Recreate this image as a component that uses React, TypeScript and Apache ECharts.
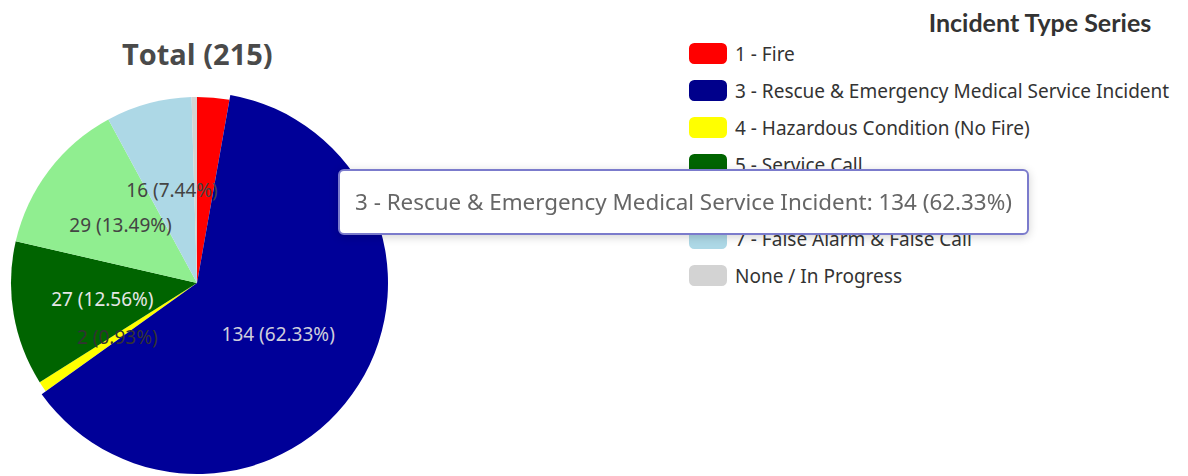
import React, { useEffect, useRef } from "react";
import * as echarts from "echarts";

const categories = [
  "1 - Fire",
  "3 - Rescue & Emergency Medical Service Incident",
  "4 - Hazardous Condition (No Fire)",
  "5 - Service Call",
  "6 - Good Intent Call",
  "7 - False Alarm & False Call",
  "None / In Progress",
];
const values = [6, 134, 2, 27, 29, 16, 1];
const colors = ["#ff0000", "#00008b", "#ffff00", "#006400", "#90ee90", "#add8e6", "#d3d3d3"];
const labelColors = ["#444", "#cfcfdc", "#333", "#e6e6e6", "#444", "#444", "#444"];
const hiddenLabels = ["1 - Fire", "None / In Progress"];
const totalTitle = "Total (215)";
const legendTitle = "Incident Type Series";

export default function App() {
  const ref = useRef<HTMLDivElement>(null);
  useEffect(() => {
    document.body.style.margin = "0";
    if (!ref.current) return;
    const chart = echarts.init(ref.current, undefined, { renderer: "svg" });
    const sectorData = categories.map((name, i) => ({
      name,
      value: values[i],
      itemStyle: { color: colors[i] },
    }));
    const labelData = categories.map((name, i) => ({
      name,
      value: values[i],
      label: { show: !hiddenLabels.includes(name), color: labelColors[i] },
    }));
    chart.setOption({
      animation: false,
      title: [
        {
          text: totalTitle,
          left: 122,
          top: 39,
          padding: 0,
          textStyle: { fontSize: 29, fontWeight: "bold", color: "#4a4a4a", fontFamily: "Open Sans" },
        },
        {
          text: legendTitle,
          right: 36,
          top: 9,
          padding: 0,
          textStyle: { fontSize: 25, fontWeight: "bold", color: "#333", fontFamily: "Lato" },
        },
      ],
      tooltip: {
        trigger: "item",
        alwaysShowContent: true,
        formatter: "{b}: {c} ({d}%)",
        position: [338, 169],
        backgroundColor: "#fff",
        borderColor: "#7b7bcc",
        borderWidth: 2,
        borderRadius: 6,
        padding: [15, 15],
        textStyle: { fontSize: 22.4, color: "#666", fontFamily: "Noto Sans", lineHeight: 32 },
        extraCssText: "box-shadow: 0 2px 10px rgba(0,0,0,0.18);",
      },
      legend: {
        orient: "vertical",
        left: 689,
        top: 43,
        padding: 0,
        itemWidth: 38,
        itemHeight: 21,
        itemGap: 16,
        icon: "roundRect",
        textStyle: {
          fontSize: 19,
          lineHeight: 21,
          color: "#333",
          fontFamily: "Noto Sans",
          padding: [0, 0, 0, 3],
        },
        data: categories,
      },
      series: [
        {
          type: "pie",
          z: 2,
          center: [197, 283],
          radius: 186,
          startAngle: 90,
          clockwise: true,
          data: sectorData,
          label: { show: false },
          labelLine: { show: false },
          emphasis: { scale: true, scaleSize: 5 },
        },
        {
          type: "pie",
          z: 5,
          silent: true,
          tooltip: { show: false },
          center: [197, 283],
          radius: 186,
          startAngle: 90,
          clockwise: true,
          data: labelData,
          itemStyle: { color: "rgba(0,0,0,0)" },
          label: {
            position: "inside",
            formatter: "{c} ({d}%)",
            fontSize: 19,
            fontFamily: "Noto Sans",
            textBorderWidth: 0,
          },
          labelLine: { show: false },
          emphasis: { disabled: true },
        },
      ],
    });
    chart.dispatchAction({ type: "highlight", seriesIndex: 0, dataIndex: 1 });
    chart.dispatchAction({ type: "showTip", seriesIndex: 0, dataIndex: 1 });
    return () => chart.dispose();
  }, []);
  return <div ref={ref} style={{ width: 1188, height: 476, background: "#fff" }} />;
}
